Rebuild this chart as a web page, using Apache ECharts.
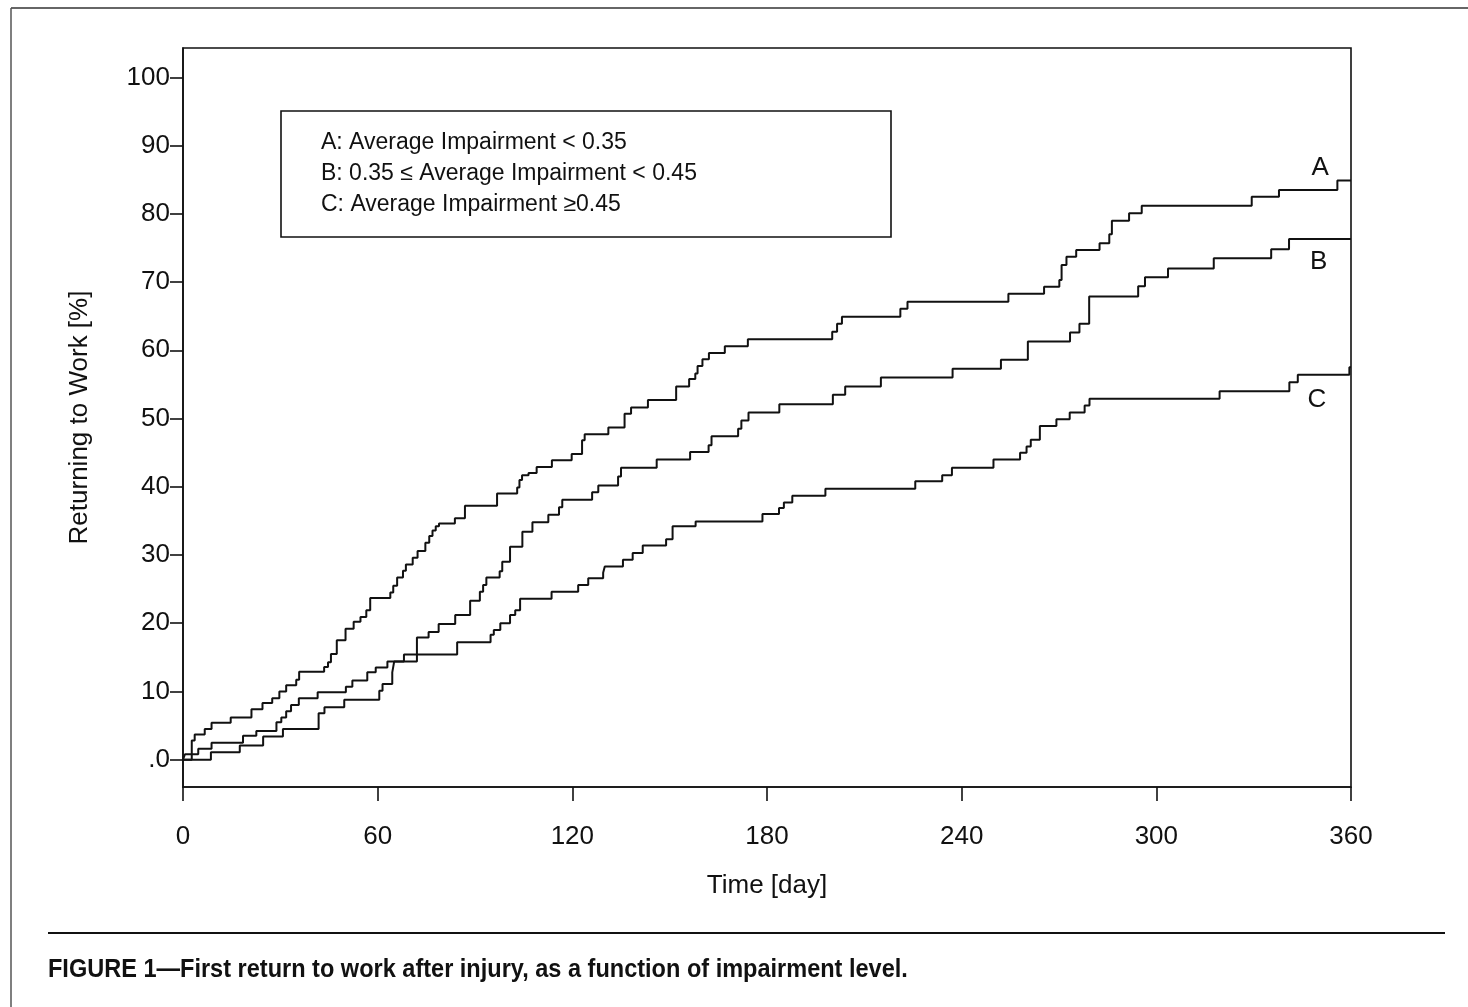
<!DOCTYPE html>
<html>
<head>
<meta charset="utf-8">
<title>First return to work after injury</title>
<script src="https://cdn.jsdelivr.net/npm/echarts@6.0.0/dist/echarts.min.js"></script>
<style>
  html, body { margin: 0; padding: 0; background: #fff; }
  #chart { width: 1468px; height: 1007px; }
</style>
</head>
<body>
<div id="chart"></div>
<script>
// step points [day, % returned to work] (value after the jump)
const stepsA = [
  [0, 0], [2.7, 2.8], [3.6, 3.7], [6.7, 4.5], [8.8, 5.4], [14.7, 6.2], [21.1, 7.4],
  [24.5, 8.3], [27.5, 9.0], [29.7, 10.0], [31.8, 10.9], [34.9, 11.7], [35.8, 12.9],
  [43.5, 13.6], [44.7, 14.3], [45.6, 15.5], [47.4, 17.5], [50.1, 19.2], [52.6, 20.2],
  [54.7, 20.9], [56.5, 21.9], [57.7, 23.7], [63.9, 24.5], [64.8, 25.5], [66, 26.7],
  [67.8, 27.7], [68.7, 28.6], [70.8, 29.6], [72.3, 30.6], [74.7, 31.8], [75.9, 32.8],
  [76.9, 33.6], [77.9, 34.2], [78.9, 34.6], [83.8, 35.4], [86.9, 37.2], [96.8, 39.0],
  [103, 39.9], [103.7, 41.0], [104.5, 41.7], [106.5, 42.0], [109, 42.9], [113.7, 43.9],
  [119.8, 44.8], [123, 46.8], [123.8, 47.7], [131.1, 48.7], [136.1, 50.7], [138.1, 51.6],
  [143.3, 52.7], [152, 54.7], [156, 55.8], [157.9, 56.6], [158.6, 57.7], [160.1, 58.7],
  [162.1, 59.6], [167, 60.6], [174.1, 61.6], [200.1, 62.7], [201.6, 63.9], [203.1, 64.9],
  [221.1, 66.1], [223.3, 67.1], [254.4, 68.3], [265.4, 69.3], [270.1, 70.3], [270.8, 72.5],
  [272.3, 73.7], [275.3, 74.7], [282.5, 75.7], [285.5, 77.0], [286.3, 79.0], [291.6, 80.1],
  [295.5, 81.2], [329.4, 82.5], [337.8, 83.5], [355.8, 84.9], [360, 84.9]
]
const stepsB = [
  [0, 0], [0.6, 0.8], [4.7, 1.6], [8.8, 2.5], [18.5, 3.5], [22.6, 4.2], [28.8, 5.5],
  [30.3, 6.2], [31.8, 7.1], [33.3, 8.0], [35.7, 9.0], [41.5, 9.9], [50.2, 10.7],
  [52.2, 11.6], [56.8, 12.8], [59.4, 13.5], [63, 14.4], [72.1, 17.9], [75.7, 18.7],
  [78.8, 19.9], [83.9, 21.2], [88.5, 23.3], [91.5, 24.6], [92.5, 25.6], [93.5, 26.7],
  [97.6, 27.6], [98.4, 29.0], [100.8, 31.2], [104.6, 33.4], [107.7, 34.8], [112.6, 35.9],
  [115.9, 37.0], [116.9, 38.1], [126.1, 39.2], [128, 40.2], [134.1, 41.5], [135, 42.8],
  [146, 44.0], [156.3, 45.1], [162, 46.1], [162.9, 47.4], [171.1, 48.5], [172.1, 49.7],
  [174.3, 50.9], [183.8, 52.1], [200.3, 53.5], [204.1, 54.7], [215.1, 56.0], [237.2, 57.3],
  [252.1, 58.6], [260.4, 61.3], [273.4, 62.6], [276.3, 63.9], [279.3, 67.9], [294.4, 69.4],
  [296.5, 70.7], [303.6, 72.0], [317.7, 73.5], [335.4, 74.8], [340.9, 76.3], [360, 76.3]
]
const stepsC = [
  [0, 0], [8.6, 1.1], [17.5, 2.1], [24.7, 3.4], [30.8, 4.5], [41.8, 6.8], [43.6, 7.7],
  [49.7, 8.8], [60.5, 10.1], [61.5, 11.1], [64.5, 12.8], [65.1, 14.4], [68.1, 15.4],
  [84.5, 17.2], [94.8, 18.3], [95.8, 19.0], [97.8, 20.0], [100.8, 21.2], [102.4, 21.9],
  [103.9, 23.6], [113.6, 24.6], [121.8, 25.6], [124.9, 26.6], [129.5, 27.4], [130, 28.3],
  [135.6, 29.3], [138.6, 30.3], [141.7, 31.4], [148.9, 32.3], [150.9, 34.2], [158, 34.9],
  [178.6, 36.0], [183.7, 36.9], [185.2, 37.7], [187.8, 38.7], [198, 39.7], [225.7, 40.8],
  [234, 41.7], [237, 42.8], [249.8, 44.0], [258, 45.0], [260, 45.9], [261.3, 46.9],
  [264.1, 48.9], [269.2, 49.9], [273.3, 50.9], [277.9, 51.9], [279.4, 52.9], [319.5, 54.0],
  [341, 55.3], [343.6, 56.4], [359.5, 57.5], [360, 57.5]
]

const curveNames = ['A', 'B', 'C']
// where the curve letters sit, in data units
const curveLabelPos = [[350.5, 86.8], [350, 72.9], [349.5, 52.7]]
const legendLines = [
  'A: Average Impairment < 0.35',
  'B: 0.35 \u2264 Average Impairment < 0.45',
  'C: Average Impairment \u22650.45'
]
const yTicks = [0, 10, 20, 30, 40, 50, 60, 70, 80, 90, 100]
const xTicks = [0, 60, 120, 180, 240, 300, 360]

const ink = '#111'
const font = '"Liberation Sans", Arial, Helvetica, sans-serif'

const chart = echarts.init(document.getElementById('chart'))

function stepSeries(name, data, labelPos) {
  return {
    name: name,
    type: 'line',
    step: 'end',
    symbol: 'none',
    lineStyle: { color: ink, width: 2 },
    data: data,
    markPoint: {
      symbol: 'circle',
      symbolSize: 0,
      label: {
        show: true,
        position: 'inside',
        formatter: name,
        color: ink,
        fontFamily: font,
        fontSize: 26
      },
      data: [{ coord: labelPos }]
    }
  }
}

chart.setOption({
  backgroundColor: '#fff',
  animation: false,
  grid: {
    left: 183,
    right: 117,
    top: 48,
    bottom: 220,
    show: true,
    borderColor: ink,
    borderWidth: 1.6
  },
  xAxis: {
    type: 'value',
    min: 0,
    max: 360,
    interval: 60,
    name: 'Time [day]',
    nameLocation: 'middle',
    nameGap: 86,
    nameTextStyle: { color: ink, fontFamily: font, fontSize: 26 },
    axisLine: { show: true, onZero: false, lineStyle: { color: ink, width: 1.6 } },
    axisTick: { show: true, length: 14, lineStyle: { color: ink, width: 1.6 } },
    axisLabel: {
      color: ink,
      fontFamily: font,
      fontSize: 26,
      margin: 37,
      customValues: xTicks
    },
    splitLine: { show: false }
  },
  yAxis: {
    type: 'value',
    min: -4,
    max: 104.3,
    name: 'Returning to Work [%]',
    nameLocation: 'middle',
    nameGap: 90,
    nameTextStyle: { color: ink, fontFamily: font, fontSize: 26 },
    axisLine: { show: true, lineStyle: { color: ink, width: 1.6 } },
    axisTick: {
      show: true,
      length: 13,
      lineStyle: { color: ink, width: 1.6 },
      customValues: yTicks
    },
    axisLabel: {
      color: ink,
      fontFamily: font,
      fontSize: 26,
      margin: 13,
      customValues: yTicks,
      formatter: function (v) {
        return v === 0 ? '.0' : String(v)
      }
    },
    splitLine: { show: false }
  },
  graphic: [
    // page frame of the scanned figure
    { type: 'line', shape: { x1: 11, y1: 8, x2: 1468, y2: 8 }, style: { stroke: '#333', lineWidth: 1.5 } },
    { type: 'line', shape: { x1: 11, y1: 8, x2: 11, y2: 1007 }, style: { stroke: '#555', lineWidth: 1.5 } },
    // legend box
    {
      type: 'rect',
      shape: { x: 281, y: 111, width: 610, height: 126 },
      style: { fill: 'none', stroke: ink, lineWidth: 1.6 }
    },
    {
      type: 'text', left: 321, top: 131,
      style: { text: legendLines[0], fill: ink, font: '23px ' + font }
    },
    {
      type: 'text', left: 321, top: 162,
      style: { text: legendLines[1], fill: ink, font: '23px ' + font }
    },
    {
      type: 'text', left: 321, top: 193,
      style: { text: legendLines[2], fill: ink, font: '23px ' + font }
    },
    // caption
    { type: 'line', shape: { x1: 48, y1: 933, x2: 1445, y2: 933 }, style: { stroke: ink, lineWidth: 2 } },
    {
      type: 'text', x: 48, y: 957, scaleX: 0.905,
      style: {
        text: 'FIGURE 1\u2014First return to work after injury, as a function of impairment level.',
        fill: ink,
        font: 'bold 26px ' + font
      }
    }
  ],
  series: [
    stepSeries(curveNames[0], stepsA, curveLabelPos[0]),
    stepSeries(curveNames[1], stepsB, curveLabelPos[1]),
    stepSeries(curveNames[2], stepsC, curveLabelPos[2])
  ]
})
</script>
</body>
</html>
